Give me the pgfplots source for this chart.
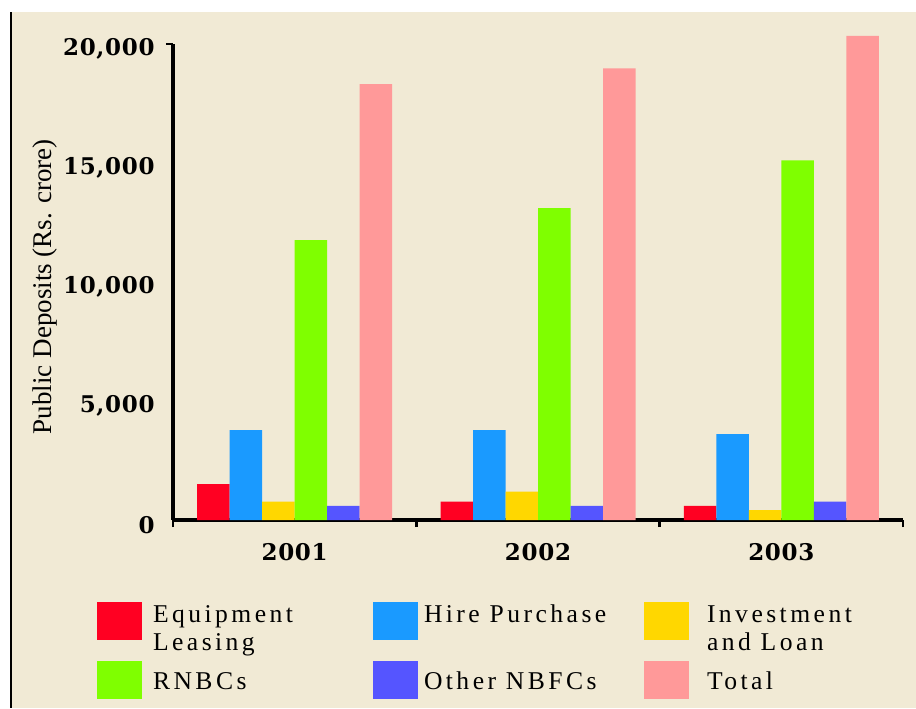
\documentclass[border=0pt]{standalone}
\usepackage{fontspec}
\setmainfont{Liberation Serif}
\newfontfamily\tickfont[LetterSpace=3]{DejaVu Serif}
\newfontfamily\legfont[LetterSpace=13.5]{Liberation Serif}
\usepackage{pgfplots}
\pgfplotsset{compat=1.18}
\definecolor{bg}{HTML}{F1EAD5}
\definecolor{cEL}{HTML}{FF0022}
\definecolor{cHP}{HTML}{1A9AFF}
\definecolor{cIL}{HTML}{FFD700}
\definecolor{cRN}{HTML}{7FFF00}
\definecolor{cOT}{HTML}{5555FF}
\definecolor{cTO}{HTML}{FF9999}
% legend entry: optional horizontal shift, optional drop of the text
\newcommand\entry[3][0pt]{\hspace*{#1}\raisebox{#2}{\parbox[t]{110pt}{\raggedright #3}}}

\begin{document}
\begin{tikzpicture}
\useasboundingbox (0,0) rectangle (458pt,354pt);
\fill[white] (0,0) rectangle (458pt,354pt);
\fill[bg] (6pt,0) rectangle (458pt,348pt);
\fill[black] (5pt,0) rectangle (6pt,348pt);
\begin{axis}[
  at={(86.5pt,94pt)}, anchor=south west,
  scale only axis, width=365pt, height=238pt,
  ybar=0pt, bar width=16.25pt,
  xmin=-0.5, xmax=2.5, ymin=0, ymax=20000,
  clip=false,
  axis lines*=left,
  axis line style={-, line width=1.6pt},
  tick style={line width=1.2pt, black},
  major tick length=0pt,
  xtick={0,1,2}, xticklabels={2001,2002,2003},
  ytick={0,5000,10000,15000,20000},
  yticklabels={0,{5,000},{10,000},{15,000},{20,000}},
  scaled y ticks=false,
  extra x ticks={-0.5,0.5,1.5,2.5}, extra x tick labels={},
  extra x tick style={major tick length=3.5pt, tick align=outside},
  extra y ticks={20000}, extra y tick labels={},
  extra y tick style={major tick length=3.5pt, tick align=outside},
  xticklabel style={font=\tickfont\bfseries\fontsize{11.5}{13}\selectfont, inner sep=0pt, anchor=north, yshift=-11.5pt},
  yticklabel style={font=\tickfont\bfseries\fontsize{11.5}{13}\selectfont, inner sep=0pt, anchor=east, xshift=-9pt, yshift=-2.5pt},
  ylabel={Public Deposits (Rs. crore)},
  ylabel style={font=\fontsize{13.5}{15}\selectfont, at={(axis description cs:-0.1753,0.49)}, anchor=center},
  legend columns=3,
  legend cell align=left,
  legend style={at={(axis description cs:-0.1041,-0.1723)}, anchor=north west,
    draw=none, fill=none, inner sep=0pt, outer sep=0pt,
    column sep=0pt, row sep=10.7pt,
    nodes={inner sep=0pt, anchor=base west,
      font=\legfont\fontsize{12.8}{14}\selectfont}},
  legend image code/.code={%
    \fill[#1, draw=none] (0pt,-9pt) rectangle (22.5pt,10pt);
    \path (28pt,0pt);
  },
]
\addplot[fill=cEL, draw=none] coordinates {(0,1510) (1,770) (2,590)};
\addplot[fill=cHP, draw=none] coordinates {(0,3780) (1,3780) (2,3610)};
\addplot[fill=cIL, draw=none] coordinates {(0,770) (1,1190) (2,420)};
\addplot[fill=cRN, draw=none] coordinates {(0,11760) (1,13100) (2,15110)};
\addplot[fill=cOT, draw=none] coordinates {(0,590) (1,590) (2,770)};
\addplot[fill=cTO, draw=none] coordinates {(0,18310) (1,18980) (2,20340)};
\legend{\entry{0pt}{Equipment\\Leasing}, \entry[-2.5pt]{0pt}{Hire Purchase}, \entry[3.5pt]{0pt}{Investment\\and Loan},
  \entry{-4pt}{RNBCs}, \entry[-2.5pt]{-4pt}{Other NBFCs}, \entry[3.5pt]{-4pt}{Total}}
\end{axis}
\end{tikzpicture}
\end{document}
